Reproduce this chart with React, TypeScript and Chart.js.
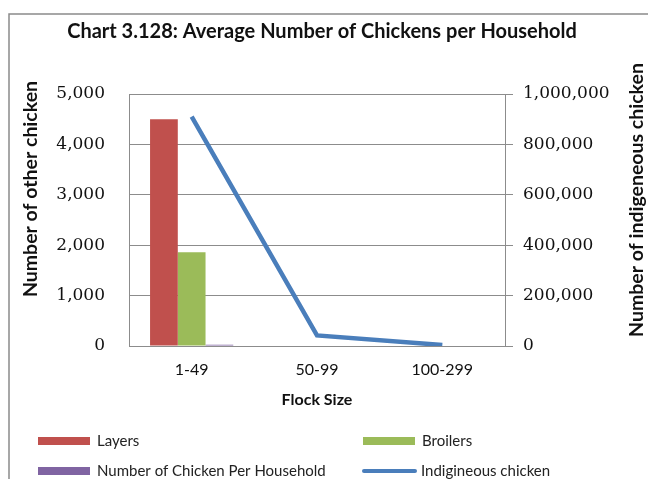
import React, { useEffect, useRef } from "react";
import { Chart, registerables } from "chart.js";

Chart.register(...registerables);

// ---- data ----
const categories = ["1-49", "50-99", "100-299"];
const layers = [4500, null, null];
const broilers = [1860, null, null];
const perHousehold = [25, null, null];
const indigenous = [910000, 42000, 4000];
const seriesLabels = ["Layers", "Broilers", "Number of Chicken Per Household", "Indigineous chicken"];
const leftAxis = { min: 0, max: 5000, step: 1000 };
const rightAxis = { min: 0, max: 1000000, step: 200000 };
const chartTitle = "Chart 3.128: Average Number of Chickens per Household";
const xTitle = "Flock Size";
const leftTitle = "Number of other chicken";
const rightTitle = "Number of indigeneous chicken";

// ---- style ----
const SANS = "Lato";
const SERIF = "DejaVu Serif";
const GRID = "#8c8c8c";
const TEXT = "#111111";
const COLORS = ["#C0504D", "#9BBB59", "#8064A2", "#4A7EBB"];

const legendSlots = [
  { x: 38, y: 441 },
  { x: 363, y: 441 },
  { x: 38, y: 471 },
  { x: 362, y: 471 },
];

const decor = {
  id: "decor",
  beforeDraw(chart: any) {
    const ctx = chart.ctx;
    ctx.save();
    ctx.fillStyle = "#ffffff";
    ctx.fillRect(0, 0, chart.width, chart.height);
    ctx.strokeStyle = "#8a8a8a";
    ctx.lineWidth = 1.5;
    ctx.strokeRect(9, 14, chart.width + 20, chart.height + 20);
    ctx.restore();
  },
  afterDraw(chart: any) {
    const ctx = chart.ctx;
    ctx.save();
    ctx.fillStyle = TEXT;
    ctx.textAlign = "center";
    ctx.textBaseline = "middle";
    ctx.font = `bold 20px ${SANS}`;
    ctx.fillText(chartTitle, 322, 32);

    ctx.font = `bold 19.5px ${SANS}`;
    ctx.save();
    ctx.translate(31, 189);
    ctx.rotate(-Math.PI / 2);
    ctx.fillText(leftTitle, 0, 0);
    ctx.restore();
    ctx.save();
    ctx.translate(637, 200);
    ctx.rotate(-Math.PI / 2);
    ctx.fillText(rightTitle, 0, 0);
    ctx.restore();

    // legend
    ctx.textAlign = "left";
    ctx.font = `15px ${SANS}`;
    chart.data.datasets.forEach((ds: any, i: number) => {
      const s = legendSlots[i];
      if (ds.type === "line") {
        ctx.strokeStyle = ds.borderColor;
        ctx.lineWidth = 4;
        ctx.lineCap = "round";
        ctx.beginPath();
        ctx.moveTo(s.x + 2, s.y);
        ctx.lineTo(s.x + 53, s.y);
        ctx.stroke();
      } else {
        ctx.fillStyle = ds.backgroundColor;
        ctx.fillRect(s.x, s.y - 4, 52, 8);
      }
      ctx.fillStyle = "#222";
      ctx.fillText(ds.label, s.x + 59, s.y);
    });
    ctx.restore();
  },
};

export default function App() {
  const ref = useRef<HTMLCanvasElement | null>(null);
  useEffect(() => {
    if (!ref.current) return;
    const chart = new Chart(ref.current, {
      type: "bar",
      data: {
        labels: categories,
        datasets: [
          { type: "bar", label: seriesLabels[0], data: layers, backgroundColor: COLORS[0], yAxisID: "y", order: 1 },
          { type: "bar", label: seriesLabels[1], data: broilers, backgroundColor: COLORS[1], yAxisID: "y", order: 1 },
          { type: "bar", label: seriesLabels[2], data: perHousehold, backgroundColor: COLORS[2], yAxisID: "y", order: 1 },
          {
            type: "line",
            label: seriesLabels[3],
            data: indigenous,
            borderColor: COLORS[3],
            backgroundColor: COLORS[3],
            borderWidth: 4.5,
            pointRadius: 0,
            tension: 0,
            yAxisID: "y1",
            order: 0,
          },
        ] as any,
      },
      options: {
        responsive: false,
        animation: false,
        layout: { padding: { left: 0, right: 0, top: 94, bottom: 63 } },
        datasets: { bar: { categoryPercentage: 0.664, barPercentage: 1.0 } } as any,
        plugins: {
          legend: { display: false },
          title: { display: false },
          tooltip: { enabled: false },
        },
        scales: {
          x: {
            grid: { display: false, drawTicks: false },
            border: { display: true, color: GRID },
            ticks: { font: { family: SANS, size: 16 }, color: TEXT, padding: 14 },
            title: {
              display: true,
              text: xTitle,
              font: { family: SANS, size: 16, weight: "bold" },
              color: TEXT,
              padding: { top: 0, bottom: 7 },
            },
            afterFit: (s: any) => {
              s.height = 70;
            },
          },
          y: {
            position: "left",
            min: leftAxis.min,
            max: leftAxis.max,
            ticks: { stepSize: leftAxis.step, padding: 24, font: { family: SERIF, size: 17 }, color: TEXT },
            grid: { color: GRID, drawTicks: false },
            border: { display: true, color: GRID },
            afterFit: (s: any) => {
              s.width = 129;
            },
          },
          y1: {
            position: "right",
            min: rightAxis.min,
            max: rightAxis.max,
            ticks: { stepSize: rightAxis.step, padding: 10, font: { family: SERIF, size: 17 }, color: TEXT },
            grid: { drawOnChartArea: false, drawTicks: true, tickLength: 8, color: GRID },
            border: { display: true, color: GRID },
            afterFit: (s: any) => {
              s.width = 143;
            },
          },
        } as any,
      },
      plugins: [decor],
    });
    return () => chart.destroy();
  }, []);
  return (
    <div style={{ position: "absolute", left: 0, top: 0, width: 648, height: 479 }}>
      <canvas ref={ref} width={648} height={479} style={{ display: "block" }} />
    </div>
  );
}
